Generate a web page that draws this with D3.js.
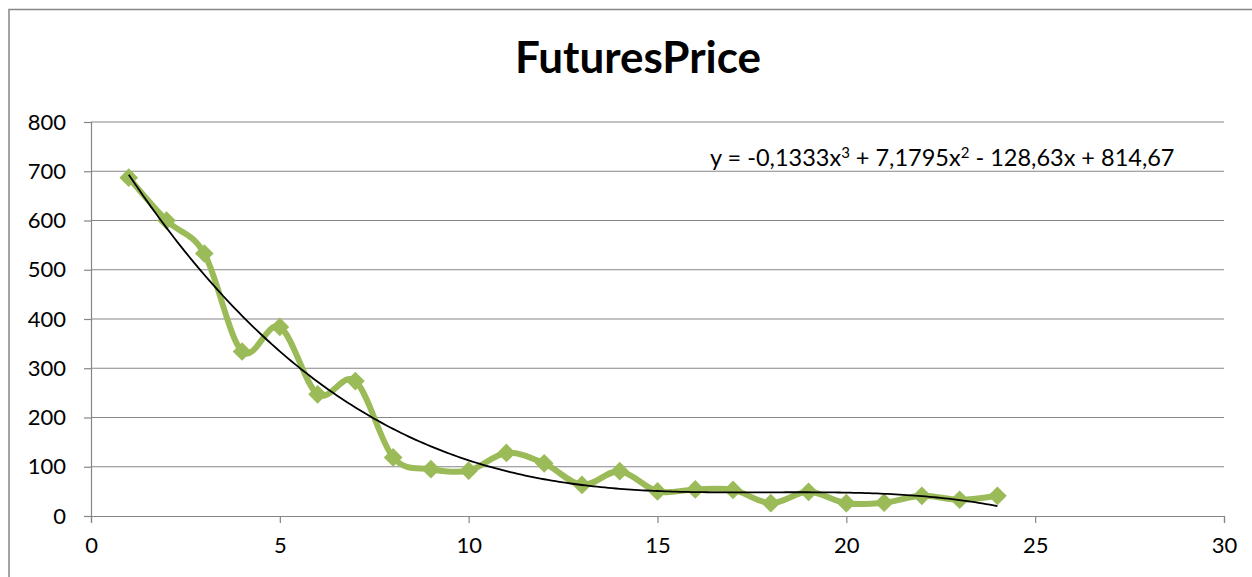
<!DOCTYPE html>
<html>
<head>
<meta charset="utf-8">
<script src="https://cdn.jsdelivr.net/npm/d3@7"></script>
<style>
  html, body { margin: 0; padding: 0; background: #fff; }
  svg { display: block; }
  text { font-family: Lato, "Open Sans", sans-serif; fill: #000; }
</style>
</head>
<body>
<svg id="chart" width="1252" height="577"></svg>
<script>
// ---- data ----
const xValues = [1,2,3,4,5,6,7,8,9,10,11,12,13,14,15,16,17,18,19,20,21,22,23,24];
const priceValues = [687,600,533,334,384,247,274,119,95,92,128,107,63,91,50,54,53,26,49,26,27,41,33,41];
const trendCoefficients = [814.67, -128.63, 7.1795, -0.1333]; // c0 + c1 x + c2 x^2 + c3 x^3
const xTicks = [0,5,10,15,20,25,30];
const yTicks = [0,100,200,300,400,500,600,700,800];
const titleText = "FuturesPrice";

(function () {
const svg = d3.select("#chart");
const W = 1252, H = 577;
const pLeft = 91, pRight = 1224, pTop = 122, pBottom = 516;

const x = d3.scaleLinear().domain([0,30]).range([pLeft,pRight]);
const y = d3.scaleLinear().domain([0,800]).range([pBottom,pTop]);

// chart frame
svg.append("path")
  .attr("d", `M9,${H} L9,9.5 L${W},9.5`)
  .attr("fill","none").attr("stroke","#868686").attr("stroke-width",1.5);

// title
svg.append("text")
  .attr("x", 638).attr("y", 73)
  .attr("text-anchor","middle")
  .attr("font-weight","bold")
  .attr("font-size", 44)
  .text(titleText);

// gridlines
svg.append("g").selectAll("line")
  .data(yTicks.filter(d => d > 0))
  .join("line")
  .attr("x1", pLeft).attr("x2", pRight)
  .attr("y1", d => y(d)).attr("y2", d => y(d))
  .attr("stroke","#868686").attr("stroke-width",1.2);

// y axis
const yAxis = d3.axisLeft(y).tickValues(yTicks).tickSize(7).tickPadding(10).tickFormat(d3.format("d"));
const gy = svg.append("g").attr("transform", `translate(${pLeft},0)`).call(yAxis);
gy.select(".domain").attr("stroke","#868686").attr("stroke-width",1.2);
gy.selectAll(".tick line").attr("stroke","#868686").attr("stroke-width",1.2);
gy.selectAll(".tick text").attr("font-size",22).attr("font-family","Lato").attr("fill","#000").attr("x",-25);

// x axis
const xAxis = d3.axisBottom(x).tickValues(xTicks).tickSize(7).tickPadding(14).tickFormat(d3.format("d"));
const gx = svg.append("g").attr("transform", `translate(0,${pBottom})`).call(xAxis);
gx.select(".domain").attr("stroke","#868686").attr("stroke-width",1.2);
gx.selectAll(".tick line").attr("stroke","#868686").attr("stroke-width",1.2);
gx.selectAll(".tick text").attr("font-size",22).attr("font-family","Lato").attr("fill","#000");

// data series
const pts = xValues.map((xv,i) => [xv, priceValues[i]]);
const line = d3.line().x(d => x(d[0])).y(d => y(d[1])).curve(d3.curveCardinal.tension(0));
svg.append("path").datum(pts)
  .attr("d", line)
  .attr("fill","none").attr("stroke","#9BBB59").attr("stroke-width",6)
  .attr("stroke-linejoin","round").attr("stroke-linecap","round");

svg.append("g").selectAll("path")
  .data(pts)
  .join("path")
  .attr("d", d3.symbol().type(d3.symbolSquare).size(175))
  .attr("transform", d => `translate(${x(d[0])},${y(d[1])}) rotate(45)`)
  .attr("fill","#9BBB59");

// trendline
const poly = xv => trendCoefficients.reduce((s,c,k) => s + c*Math.pow(xv,k), 0);
const trendPts = d3.range(1, 24.001, 0.1).map(xv => [xv, poly(xv)]);
svg.append("path").datum(trendPts)
  .attr("d", d3.line().x(d => x(d[0])).y(d => y(d[1])))
  .attr("fill","none").attr("stroke","#000").attr("stroke-width",1.8);

// equation
const eq = svg.append("text").attr("x", 710).attr("y", 166).attr("font-size", 23.5);
eq.append("tspan").text("y = -0,1333x");
eq.append("tspan").attr("font-size",15).attr("dy",-8).text("3");
eq.append("tspan").attr("dy",8).text(" + 7,1795x");
eq.append("tspan").attr("font-size",15).attr("dy",-8).text("2");
eq.append("tspan").attr("dy",8).text(" - 128,63x + 814,67");
})();
</script>
</body>
</html>
